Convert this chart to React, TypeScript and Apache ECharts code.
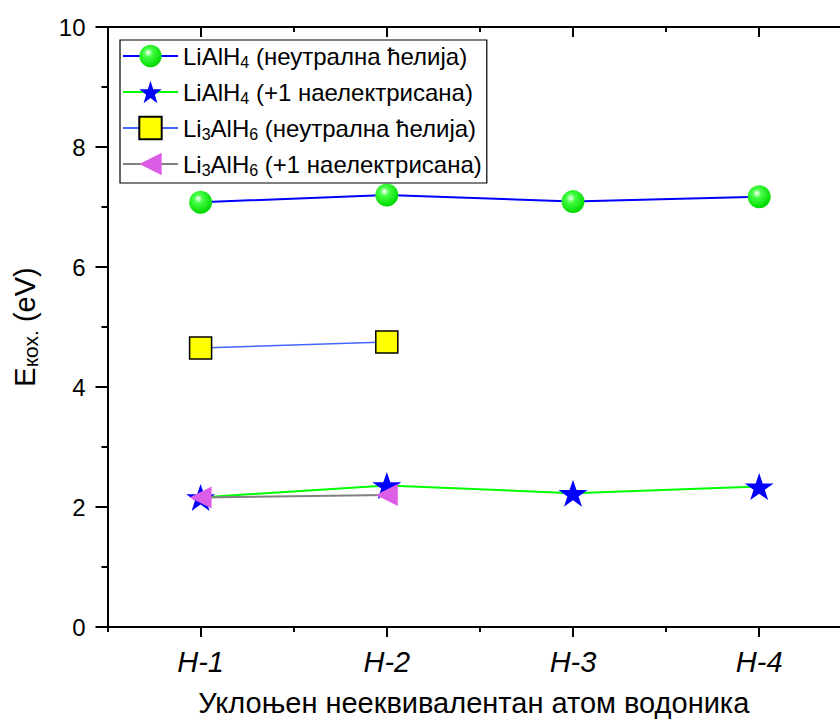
import React, { useEffect, useRef } from "react";
import * as echarts from "echarts";

// Removed hydrogen positions
const categories = ["H-1", "H-2", "H-3", "H-4"];

// Cohesive energy, eV
const lialh4Neutral = [7.08, 7.2, 7.09, 7.17];
const lialh4Charged = [2.16, 2.36, 2.23, 2.34];
const li3alh6Neutral = [4.65, 4.75];
const li3alh6Charged = [2.16, 2.2];

const yMin = 0;
const yMax = 10;
const yStep = 2;

// Category positions on the x scale (1-based), half steps for minor ticks
const xMin = 0.5;
const xMax = 4.434;
const majorX = categories.map((_, i) => i + 1);
const minorX = categories.map((_, i) => i + 0.5);

const seriesNames = [
  "LiAlH4 (неутрална ћелија)",
  "LiAlH4 (+1 наелектрисана)",
  "Li3AlH6 (неутрална ћелија)",
  "Li3AlH6 (+1 наелектрисана)",
];

const legendRich: Record<string, string> = {
  [seriesNames[0]]: "{t|LiAlH}{s|4}{t| (неутрална ћелија)}",
  [seriesNames[1]]: "{t|LiAlH}{s|4}{t| (+1 наелектрисана)}",
  [seriesNames[2]]: "{t|Li}{s|3}{t|AlH}{s|6}{t| (неутрална ћелија)}",
  [seriesNames[3]]: "{t|Li}{s|3}{t|AlH}{s|6}{t| (+1 наелектрисана)}",
};

const SANS = "'Liberation Sans', Arial, sans-serif";

const STAR =
  "path://M50,0 L61.8,35.1 L98.9,35.1 L68.9,56.8 L80.3,91.9 L50,70.2 L19.7,91.9 L31.1,56.8 L1.1,35.1 L38.2,35.1 Z";
const LEFT_TRIANGLE = "path://M0,50 L100,0 L100,100 Z";

const sphere = {
  type: "radial",
  x: 0.4,
  y: 0.35,
  r: 0.65,
  colorStops: [
    { offset: 0, color: "#ffffff" },
    { offset: 0.3, color: "#44ff44" },
    { offset: 1, color: "#00d800" },
  ],
};

const toPoints = (values: number[]) => values.map((v, i) => [i + 1, v]);

export default function App() {
  const ref = useRef<HTMLDivElement>(null);

  useEffect(() => {
    if (!ref.current) return;
    document.body.style.margin = "0";
    const chart = echarts.init(ref.current, null, { renderer: "svg" });

    const axisLine = { show: true, lineStyle: { color: "#000", width: 2 } };
    const tickStyle = { color: "#000", width: 2 };

    const xBase = {
      type: "value",
      min: xMin,
      max: xMax,
      splitLine: { show: false },
    };

    const option: any = {
      animation: false,
      backgroundColor: "#fff",
      grid: { left: 107, top: 27, width: 733, height: 600, containLabel: false },
      legend: {
        orient: "vertical",
        left: 120,
        top: 40,
        padding: [2, 5, 5, 2],
        itemGap: 8,
        itemWidth: 55,
        itemHeight: 28,
        borderColor: "#000",
        borderWidth: 1.2,
        selectedMode: false,
        data: seriesNames,
        formatter: (name: string) => legendRich[name],
        textStyle: {
          rich: {
            t: { fontFamily: SANS, fontSize: 24, color: "#000", lineHeight: 27 },
            s: {
              fontFamily: SANS,
              fontSize: 16,
              color: "#000",
              lineHeight: 27,
              padding: [12, 0, 0, 0],
            },
          },
        },
      },
      xAxis: [
        {
          ...xBase,
          position: "bottom",
          axisLine,
          axisTick: { show: true, customValues: majorX, length: 10, lineStyle: tickStyle },
          axisLabel: {
            customValues: majorX,
            formatter: (v: number) => categories[Math.round(v) - 1] ?? "",
            margin: 20,
            fontFamily: SANS,
            fontStyle: "italic",
            fontSize: 29,
            color: "#000",
          },
          name: "Уклоњен нееквивалентан атом водоника",
          nameLocation: "middle",
          nameGap: 61,
          nameTextStyle: { fontFamily: SANS, fontSize: 29, lineHeight: 29, color: "#000" },
        },
        {
          ...xBase,
          position: "bottom",
          axisLine: { show: false },
          axisTick: { show: true, customValues: minorX, length: 5, lineStyle: tickStyle },
          axisLabel: { show: false },
        },
        {
          ...xBase,
          position: "top",
          axisLine,
          axisTick: { show: true, inside: true, customValues: majorX, length: 10, lineStyle: tickStyle },
          axisLabel: { show: false },
        },
        {
          ...xBase,
          position: "top",
          axisLine: { show: false },
          axisTick: { show: true, inside: true, customValues: minorX, length: 5, lineStyle: tickStyle },
          axisLabel: { show: false },
        },
      ],
      yAxis: [
        {
          type: "value",
          min: yMin,
          max: yMax,
          interval: yStep,
          position: "left",
          axisLine,
          axisTick: { show: true, length: 12, lineStyle: tickStyle },
          minorTick: { show: true, splitNumber: 2, length: 6, lineStyle: tickStyle },
          axisLabel: { margin: 22, fontFamily: SANS, fontSize: 24, color: "#000" },
          splitLine: { show: false },
          name: "{e|E}{k|кох.}{e| (eV)}",
          nameLocation: "middle",
          nameGap: 66,
          nameTextStyle: {
            rich: {
              e: { fontFamily: SANS, fontSize: 29, color: "#000", lineHeight: 34 },
              k: { fontFamily: SANS, fontSize: 21, color: "#000", lineHeight: 34, padding: [12, 0, 0, 0] },
            },
          },
        },
      ],
      series: [
        {
          name: seriesNames[0],
          type: "line",
          data: toPoints(lialh4Neutral),
          symbol: "circle",
          symbolSize: 23,
          lineStyle: { color: "#0000ff", width: 2 },
          itemStyle: { color: sphere as any, borderWidth: 0 },
          z: 2,
        },
        {
          name: seriesNames[1],
          type: "line",
          data: toPoints(lialh4Charged),
          symbol: STAR,
          symbolSize: [29, 27],
          lineStyle: { color: "#00ff00", width: 2 },
          itemStyle: { color: "#0000ff", borderWidth: 0 },
          z: 3,
        },
        {
          name: seriesNames[2],
          type: "line",
          data: toPoints(li3alh6Neutral),
          symbol: "rect",
          symbolSize: 22,
          lineStyle: { color: "#4466ff", width: 1.5 },
          itemStyle: { color: "#ffff00", borderColor: "#000", borderWidth: 1.5 },
          z: 4,
        },
        {
          name: seriesNames[3],
          type: "line",
          data: toPoints(li3alh6Charged),
          symbol: LEFT_TRIANGLE,
          symbolSize: [22, 22],
          lineStyle: { color: "#808080", width: 2 },
          itemStyle: { color: "#dd5ee6", borderWidth: 0 },
          z: 5,
        },
      ],
    };

    chart.setOption(option);
    return () => chart.dispose();
  }, []);

  return (
    <div style={{ position: "fixed", left: 0, top: 0, width: 840, height: 722, overflow: "hidden" }}>
      <div ref={ref} style={{ width: 840, height: 722 }} />
    </div>
  );
}
